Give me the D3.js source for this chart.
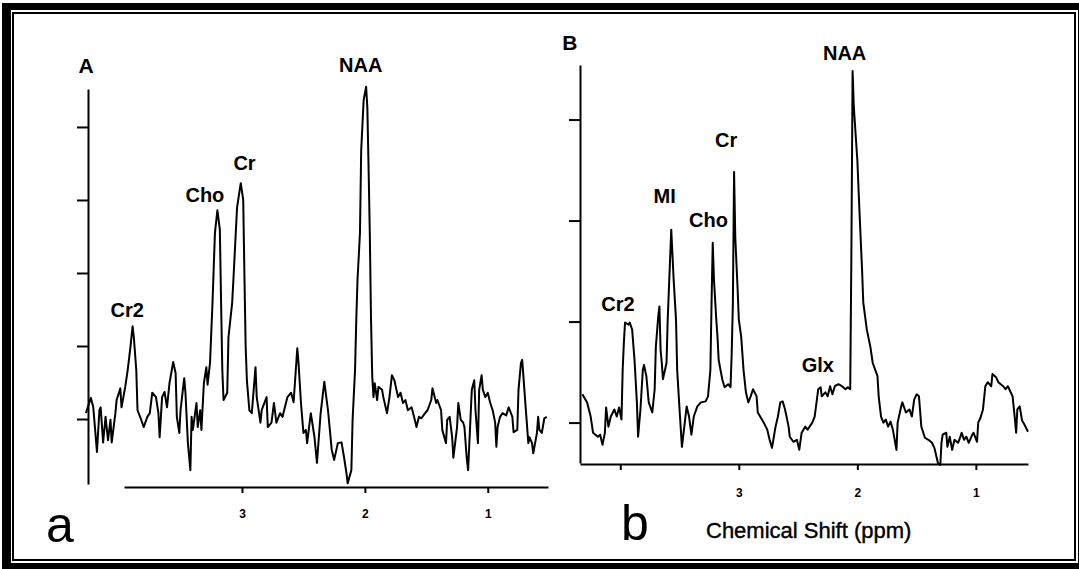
<!DOCTYPE HTML>
<html lang="en">
<head>
<meta http-equiv="Content-Type" content="text/html; charset=utf-8">
<title>Proton MR spectra A and B</title>
<script src="https://cdn.jsdelivr.net/npm/d3@7"></script>
<style type="text/css">
    html,body{margin:0;padding:0;background:#fff}
    svg{display:block}
    text{font-family:"Liberation Sans",Arial,Helvetica,sans-serif;fill:#000}
    .peak{font-size:20px;font-weight:bold}
    .panelId{font-size:21px;font-weight:bold}
    .tick text{font-size:12px;font-weight:bold}
    .letter{font-size:50px}
    .xTitle{font-size:22px;stroke:#000;stroke-width:0.4px}
</style>
</head>
<body>
<div id="chart"></div>
<script type="text/javascript">
// spectrum A: [chemical shift (ppm), intensity (y tick units)]
var spectrumA=[[4.27,0.08],[4.23,0.29],[4.21,0.16],[4.18,-0.45],[4.16,0.12],[4.15,0.16],[4.13,-0.32],[4.11,0.03],[4.09,-0.29],[4.07,-0.01],[4.06,-0.32],[4.03,0.08],[4.02,0.26],[3.99,0.42],[3.98,0.16],[3.95,0.44],[3.93,0.67],[3.91,0.95],[3.89,1.27],[3.88,1.12],[3.86,0.67],[3.85,0.12],[3.82,-0.01],[3.80,-0.11],[3.77,0.03],[3.75,0.08],[3.73,0.36],[3.70,0.30],[3.68,0.08],[3.67,-0.25],[3.65,0.30],[3.63,0.37],[3.61,0.16],[3.59,0.49],[3.56,0.78],[3.54,0.63],[3.53,0.03],[3.51,-0.19],[3.50,0.12],[3.47,0.56],[3.46,0.36],[3.44,-0.33],[3.42,-0.70],[3.41,0.03],[3.40,-0.15],[3.37,0.22],[3.36,-0.11],[3.34,0.12],[3.33,-0.15],[3.31,0.49],[3.29,0.71],[3.28,0.47],[3.26,0.77],[3.24,1.59],[3.22,2.55],[3.20,2.86],[3.18,2.59],[3.17,1.59],[3.16,0.67],[3.15,0.26],[3.12,0.36],[3.11,1.12],[3.08,1.59],[3.07,1.90],[3.04,2.90],[3.01,3.23],[2.99,3.00],[2.98,1.95],[2.97,0.99],[2.96,0.53],[2.94,0.12],[2.92,0.08],[2.89,0.71],[2.88,0.30],[2.85,-0.05],[2.84,0.12],[2.80,0.30],[2.79,-0.11],[2.76,-0.05],[2.74,0.22],[2.72,-0.05],[2.69,0.08],[2.67,0.03],[2.63,0.30],[2.60,0.36],[2.58,0.23],[2.55,0.97],[2.54,0.77],[2.52,0.22],[2.50,-0.19],[2.48,-0.15],[2.47,-0.33],[2.44,0.08],[2.41,-0.25],[2.39,-0.60],[2.36,0.08],[2.33,0.51],[2.30,0.12],[2.27,-0.42],[2.25,-0.56],[2.22,-0.33],[2.19,-0.32],[2.17,-0.52],[2.15,-0.74],[2.14,-0.88],[2.11,-0.70],[2.10,-0.01],[2.08,0.67],[2.07,1.36],[2.06,1.90],[2.04,2.55],[2.03,3.68],[2.01,4.37],[1.99,4.55],[1.98,4.27],[1.97,3.45],[1.96,2.55],[1.95,1.36],[1.94,0.58],[1.93,0.30],[1.92,0.49],[1.90,0.26],[1.89,0.44],[1.86,0.40],[1.85,0.30],[1.82,0.08],[1.80,0.30],[1.78,0.60],[1.76,0.53],[1.73,0.30],[1.71,0.36],[1.69,0.22],[1.67,0.26],[1.65,0.12],[1.62,0.16],[1.60,0.03],[1.58,-0.11],[1.56,0.03],[1.54,0.01],[1.51,0.08],[1.49,0.12],[1.46,0.26],[1.45,0.42],[1.42,0.22],[1.41,0.26],[1.38,0.12],[1.37,-0.15],[1.34,-0.33],[1.33,-0.01],[1.31,0.03],[1.29,-0.25],[1.28,-0.53],[1.25,-0.11],[1.24,0.22],[1.22,-0.01],[1.20,-0.05],[1.19,-0.11],[1.17,-0.56],[1.16,-0.70],[1.15,-0.33],[1.13,0.40],[1.11,0.53],[1.10,0.12],[1.08,-0.33],[1.07,0.40],[1.05,0.60],[1.04,0.40],[1.02,0.30],[1.00,0.36],[0.98,0.22],[0.96,0.12],[0.94,-0.05],[0.93,-0.38],[0.92,-0.11],[0.90,0.03],[0.88,0.08],[0.85,0.05],[0.83,0.16],[0.80,0.03],[0.79,-0.18],[0.76,-0.15],[0.75,0.40],[0.73,0.77],[0.72,0.81],[0.71,0.58],[0.69,0.12],[0.67,-0.33],[0.66,-0.25],[0.64,-0.33],[0.63,-0.47],[0.60,-0.19],[0.59,0.03],[0.58,-0.15],[0.56,-0.19],[0.54,0.01],[0.52,0.03]];

// spectrum B: [chemical shift (ppm), intensity (y tick units)]
var spectrumB=[[4.32,0.28],[4.28,0.20],[4.25,0.06],[4.23,-0.10],[4.19,-0.14],[4.17,-0.12],[4.15,-0.22],[4.13,-0.10],[4.12,0.15],[4.10,-0.04],[4.08,0.06],[4.05,0.13],[4.03,0.06],[4.01,0.15],[3.99,0.03],[3.98,0.52],[3.97,0.79],[3.96,0.99],[3.93,0.97],[3.92,0.99],[3.90,0.92],[3.88,0.62],[3.86,0.20],[3.85,-0.14],[3.83,0.13],[3.81,0.52],[3.80,0.57],[3.78,0.46],[3.76,0.20],[3.73,0.10],[3.71,0.33],[3.70,0.75],[3.68,1.05],[3.67,1.15],[3.66,0.72],[3.65,0.59],[3.64,0.43],[3.61,0.59],[3.60,1.02],[3.59,1.32],[3.57,1.91],[3.55,1.42],[3.53,1.02],[3.52,0.52],[3.50,0.13],[3.48,-0.24],[3.46,-0.04],[3.44,0.16],[3.42,0.06],[3.40,-0.12],[3.38,0.06],[3.35,0.16],[3.32,0.20],[3.28,0.21],[3.26,0.26],[3.24,0.52],[3.23,1.19],[3.22,1.78],[3.21,1.42],[3.19,1.02],[3.18,0.85],[3.17,0.62],[3.14,0.43],[3.12,0.35],[3.09,0.38],[3.07,0.35],[3.06,0.69],[3.05,1.19],[3.04,2.48],[3.03,1.84],[3.01,1.32],[3.00,1.02],[2.98,0.85],[2.96,0.52],[2.94,0.30],[2.92,0.20],[2.90,0.26],[2.88,0.33],[2.85,0.26],[2.84,0.10],[2.82,0.06],[2.79,0.00],[2.76,-0.07],[2.74,-0.17],[2.72,-0.25],[2.69,-0.04],[2.67,0.06],[2.65,0.20],[2.63,0.21],[2.61,0.13],[2.58,-0.04],[2.57,-0.14],[2.54,-0.19],[2.51,-0.17],[2.49,-0.27],[2.47,-0.10],[2.44,-0.04],[2.42,-0.07],[2.38,0.00],[2.36,0.06],[2.33,0.33],[2.31,0.35],[2.30,0.26],[2.27,0.30],[2.25,0.26],[2.23,0.36],[2.21,0.28],[2.19,0.36],[2.16,0.38],[2.13,0.36],[2.10,0.33],[2.08,0.35],[2.06,0.33],[2.05,1.71],[2.04,3.48],[2.03,3.13],[2.00,2.60],[1.98,2.04],[1.96,1.51],[1.95,1.19],[1.92,0.92],[1.89,0.75],[1.87,0.59],[1.83,0.46],[1.82,0.26],[1.80,0.06],[1.78,0.00],[1.76,0.03],[1.74,-0.04],[1.72,0.01],[1.70,-0.07],[1.67,-0.27],[1.66,0.00],[1.63,0.16],[1.62,0.20],[1.59,0.10],[1.56,0.13],[1.54,0.06],[1.52,0.23],[1.50,0.28],[1.48,0.26],[1.46,-0.04],[1.43,-0.15],[1.40,-0.17],[1.37,-0.20],[1.35,-0.25],[1.32,-0.40],[1.30,-0.42],[1.29,-0.20],[1.28,-0.12],[1.25,-0.10],[1.24,-0.24],[1.22,-0.14],[1.20,-0.27],[1.18,-0.17],[1.15,-0.20],[1.13,-0.14],[1.12,-0.10],[1.10,-0.17],[1.08,-0.14],[1.06,-0.20],[1.03,-0.12],[1.02,-0.10],[0.99,-0.19],[0.98,0.00],[0.96,0.05],[0.94,0.13],[0.92,0.36],[0.90,0.40],[0.87,0.36],[0.86,0.48],[0.83,0.45],[0.81,0.40],[0.79,0.38],[0.77,0.36],[0.75,0.33],[0.73,0.36],[0.71,0.31],[0.69,0.26],[0.67,0.03],[0.66,-0.10],[0.65,0.13],[0.63,0.16],[0.61,0.02],[0.59,-0.02],[0.56,-0.09]];

// peak names, anchored at [ppm, intensity] of the text start / baseline
var labelsA=[["A",4.33,4.74],["NAA",2.21,4.75],["Cr",3.07,3.41],["Cho",3.46,2.97],["Cr2",4.07,1.40]];
var labelsB=[["B",4.49,3.69],["NAA",2.29,3.59],["Cr",3.20,2.73],["MI",3.72,2.17],["Cho",3.42,1.94],["Cr2",4.16,1.10],["Glx",2.47,0.50]];

// axis ticks
var xTicksA=[3,2,1];
var xTickLabelsA=["3","2","1"];
var xTicksB=[4,3,2,1];
var xTickLabelsB=["","3","2","1"];
var yTicksA=[0,1,2,3,4];
var yTicksB=[0,1,2,3];

var W=1079, H=569;
var svg=d3.select("#chart").append("svg")
    .attr("width",W)
    .attr("height",H);

function drawFrame() {
    svg.append("rect").attr("x",2).attr("y",3).attr("width",W-2).attr("height",H-3).attr("fill","#000");
    svg.append("rect").attr("x",11).attr("y",10).attr("width",1067).attr("height",553).attr("fill","#fff");
    svg.append("rect").attr("x",13).attr("y",13).attr("width",1062).attr("height",547)
        .attr("fill","none").attr("stroke","#000").attr("stroke-width",2);
}

function drawPanel(p) {
    var g=svg.append("g");
    var xAxis=d3.axisBottom(p.x)
        .tickValues(p.xTicks)
        .tickFormat(function(d,i){return p.xTickLabels[i]})
        .tickSize(6).tickSizeOuter(0).tickPadding(p.xPad);
    var yAxis=d3.axisLeft(p.y)
        .tickValues(p.yTicks)
        .tickFormat("")
        .tickSize(11).tickSizeOuter(0);
    g.append("g")
        .attr("transform","translate(0,"+p.xAxisY+")")
        .call(xAxis);
    g.append("g")
        .attr("transform","translate("+p.yAxisX+",0)")
        .call(yAxis);
    g.selectAll(".domain, .tick line")
        .attr("stroke","#000")
        .attr("stroke-width",2);
    g.selectAll(".tick text").attr("fill","#000");

    var line=d3.line()
        .x(function(d){return p.x(d[0])})
        .y(function(d){return p.y(d[1])});
    g.append("path")
        .datum(p.data)
        .attr("fill","none")
        .attr("stroke","#000")
        .attr("stroke-width",2)
        .attr("stroke-linejoin","round")
        .attr("d",line);

    g.selectAll("text.lbl")
        .data(p.labels)
        .enter().append("text")
        .attr("class",function(d){return d[0].length==1?"lbl panelId":"lbl peak"})
        .attr("x",function(d){return p.x(d[1])})
        .attr("y",function(d){return p.y(d[2])})
        .text(function(d){return d[0]});
}

drawFrame();

drawPanel({
    data:spectrumA, labels:labelsA,
    x:d3.scaleLinear().domain([3.96,0.51]).range([124,548]),
    y:d3.scaleLinear().domain([-0.89,4.52]).range([484,89]),
    xTicks:xTicksA, xTickLabels:xTickLabelsA, yTicks:yTicksA,
    xAxisY:487, yAxisX:88, xPad:16
});

drawPanel({
    data:spectrumB, labels:labelsB,
    x:d3.scaleLinear().domain([4.34,0.56]).range([580,1028]),
    y:d3.scaleLinear().domain([-0.40,3.54]).range([463,65]),
    xTicks:xTicksB, xTickLabels:xTickLabelsB, yTicks:yTicksB,
    xAxisY:464, yAxisX:580, xPad:18
});

svg.append("text").attr("class","letter").attr("x",46).attr("y",542).text("a");
svg.append("text").attr("class","letter").attr("x",621).attr("y",540).text("b");
svg.append("text").attr("class","xTitle").attr("x",706).attr("y",538).text("Chemical Shift (ppm)");
</script>
</body>
</html>
